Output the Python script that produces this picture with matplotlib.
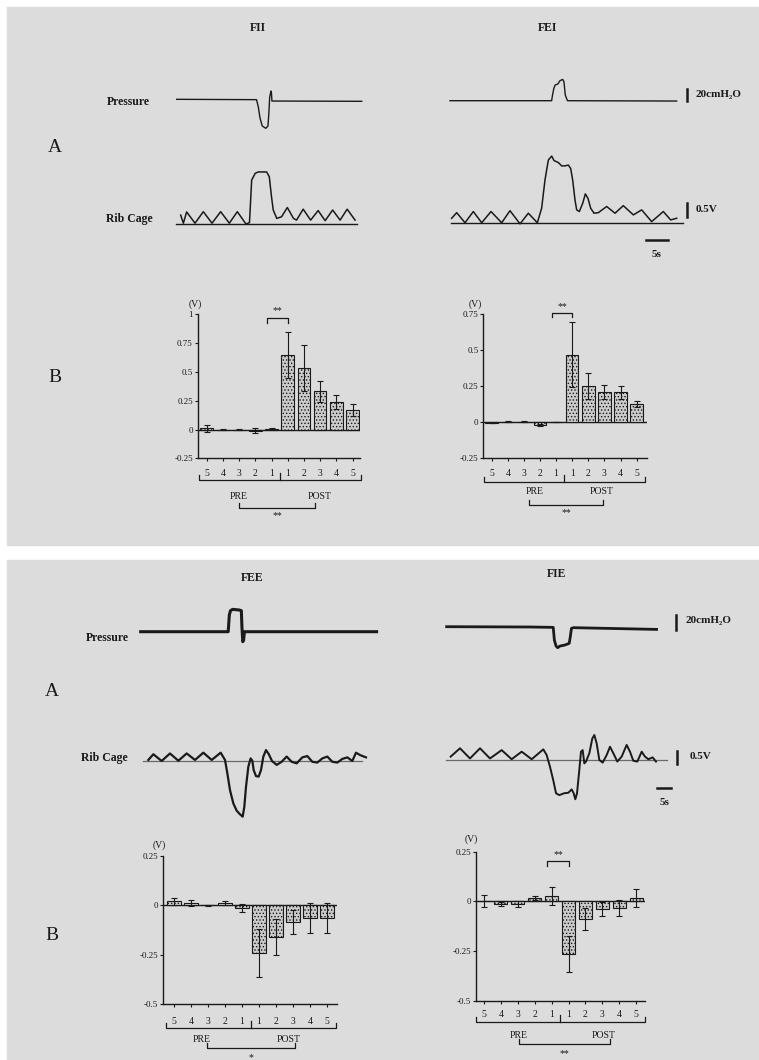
import matplotlib.pyplot as plt
from matplotlib.patches import Rectangle

plt.rcParams['font.family'] = ['Liberation Serif', 'DejaVu Serif']
plt.rcParams['hatch.linewidth'] = 0.6

W, H = 759, 1060
INK = '#1a1a1a'

# ---- traces (time in s, pressure in cmH2O, rib cage in V) ----
FII_P_T = [0.15, 18.3, 18.7, 19.1, 19.6, 20.4, 20.9, 21.1, 21.3, 21.6, 21.7, 21.8, 42.2]
FII_P = [1.2, 0.6, -11.7, -32, -45.6, -49.7, -45.6, -23.4, 5.8, 15.8, 11.7, -1.8, -2.3]
FII_R_T = [1.06, 1.67, 2.42, 4.32, 6.21, 8.18, 10.15, 12.12, 13.94, 15.9, 16.7, 17.2,
           18.0, 18.7, 20.6, 21.2, 21.7, 22.1, 22.9, 24.0, 25.3, 26.7, 27.4, 28.9,
           30.6, 32.3, 33.9, 35.6, 37.3, 38.9, 40.7]
FII_R = [0.33, 0.04, 0.44, 0.04, 0.45, 0.04, 0.45, 0.04, 0.45, 0.01, 0.06, 1.58,
         1.82, 1.87, 1.87, 1.70, 0.99, 0.51, 0.21, 0.27, 0.60, 0.21, 0.15, 0.54,
         0.15, 0.49, 0.13, 0.51, 0.15, 0.54, 0.15]

FEI_P_T = [0, 23.1, 23.3, 23.6, 23.9, 24.5, 25.0, 25.6, 25.9, 26.2, 26.7, 51.5]
FEI_P = [0, 0, 9.9, 21.6, 27.5, 29.2, 35.1, 37.4, 33.3, 9.9, 0, -0.6]
FEI_R_T = [0.38, 1.52, 3.41, 5.30, 7.20, 9.32, 11.74, 13.64, 15.91, 17.80, 19.85,
           20.83, 21.59, 22.35, 23.11, 23.64, 24.62, 25.38, 26.14, 26.89, 27.42,
           27.88, 28.41, 28.79, 29.39, 30.15, 30.76, 31.36, 31.97, 32.73, 33.71,
           35.61, 37.50, 39.39, 41.67, 43.56, 45.83, 48.48, 50.15, 51.52]
FEI_R = [0.18, 0.38, 0.02, 0.42, 0.02, 0.42, 0.02, 0.45, -0.02, 0.36, 0.02,
         0.54, 1.55, 2.26, 2.40, 2.24, 2.17, 2.05, 2.05, 2.08, 1.96,
         1.55, 0.83, 0.48, 0.42, 0.71, 1.05, 0.89, 0.54, 0.36, 0.38,
         0.60, 0.36, 0.63, 0.30, 0.48, 0.06, 0.42, 0.12, 0.18]

FEE_P_T = [0.24, 31.5, 31.9, 32.3, 33.1, 35.5, 36.2, 36.4, 36.7, 37.0, 37.3, 84.5]
FEE_P = [0, 0, 22.2, 28, 29.8, 28.9, 28, 6.7, -13.3, -11.1, 0, 0]
FEE_R_T = [2.98, 4.76, 7.74, 10.71, 13.69, 16.67, 19.64, 22.62, 25.60, 28.81, 30.36,
           31.19, 32.14, 33.33, 34.52, 35.71, 36.67, 37.26, 37.86, 38.69, 39.52,
           40.12, 40.60, 41.43, 42.38, 43.21, 44.05, 45.0, 45.95, 47.14, 48.81,
           50.60, 52.38, 54.17, 55.95, 57.98, 59.76, 61.55, 63.33, 65.12, 66.90,
           68.69, 70.48, 72.26, 74.05, 75.83, 77.14, 78.57, 80.71]
FEE_R = [0.04, 0.26, 0, 0.29, 0.01, 0.29, 0.04, 0.32, 0.04, 0.32, 0.04,
         -0.47, -1.12, -1.63, -1.91, -2.05, -2.14, -1.76, -0.99, -0.22, 0.10,
         0.01, -0.35, -0.58, -0.60, -0.35, 0.17, 0.42, 0.27, 0, -0.15,
         -0.03, 0.17, -0.03, -0.09, 0.14, 0.19, -0.03, -0.06, 0.10, 0.17,
         -0.03, -0.06, 0.08, 0.14, 0, 0.32, 0.23, 0.14]

FIE_P_T = [0.24, 30.0, 38.3, 38.7, 39.3, 39.9, 40.7, 42.5, 44.0, 44.4, 44.8, 45.5, 75.2]
FIE_P = [0, -0.4, -0.9, -17.8, -25.8, -28, -25.8, -24.4, -22.2, -13.3, -2.2, -1.3, -3.6]
FIE_R_T = [1.67, 5.0, 8.57, 12.14, 15.71, 19.88, 23.45, 27.02, 30.60, 34.76, 35.95,
           37.14, 38.33, 39.29, 40.48, 42.14, 43.69, 44.88, 45.60, 46.19, 46.79,
           47.50, 48.21, 48.81, 49.40, 50.0, 51.19, 52.26, 52.98, 53.81, 54.76,
           55.95, 57.38, 58.57, 59.76, 61.19, 62.74, 64.52, 65.71, 66.90, 68.33,
           69.88, 71.07, 72.26, 73.81, 75.0]
FIE_R = [0.13, 0.45, 0.06, 0.45, 0.06, 0.38, 0.03, 0.32, 0.03, 0.41, 0.19,
         -0.26, -0.79, -1.28, -1.35, -1.28, -1.26, -1.13, -1.28, -1.51, -1.28,
         -0.51, 0.32, 0.38, -0.13, -0.06, 0.26, 0.83, 0.96, 0.64, 0,
         -0.10, 0.19, 0.51, 0.26, -0.06, 0.13, 0.58, 0.32, -0.03, -0.06,
         0.32, 0.13, 0.03, 0.10, -0.06]

# ---- bar charts (V) ----
CATS = ['5', '4', '3', '2', '1', '1', '2', '3', '4', '5']
FII_MEAN = [0.01, 0.0, 0.0, -0.01, 0.005, 0.65, 0.53, 0.33, 0.24, 0.17]
FII_ERR = [0.03, 0.004, 0.004, 0.02, 0.004, 0.20, 0.20, 0.09, 0.06, 0.05]
FEI_MEAN = [-0.005, 0.005, 0.005, -0.02, 0.0, 0.47, 0.25, 0.21, 0.21, 0.125]
FEI_ERR = [0.003, 0.003, 0.003, 0.005, 0.0, 0.225, 0.09, 0.05, 0.045, 0.02]
FEE_MEAN = [0.02, 0.01, 0.0, 0.01, -0.015, -0.24, -0.16, -0.085, -0.065, -0.065]
FEE_ERR = [0.02, 0.015, 0.003, 0.01, 0.02, 0.12, 0.09, 0.06, 0.075, 0.075]
FIE_MEAN = [0.0, -0.015, -0.015, 0.015, 0.025, -0.265, -0.09, -0.037, -0.032, 0.015]
FIE_ERR = [0.03, 0.01, 0.015, 0.01, 0.045, 0.09, 0.055, 0.035, 0.04, 0.045]

fig = plt.figure(figsize=(W / 100, H / 100), dpi=100)
fig.patch.set_facecolor('white')
fig.add_artist(Rectangle((7 / W, 1 - 545 / H), (W - 7) / W, 538 / H,
                         transform=fig.transFigure, color='#dcdcdc', zorder=-5))
fig.add_artist(Rectangle((7 / W, 0), (W - 7) / W, 1 - 560 / H,
                         transform=fig.transFigure, color='#dcdcdc', zorder=-5))


def ftext(x, y, s, **kw):
    kw.setdefault('ha', 'center')
    kw.setdefault('va', 'center')
    fig.text(x / W, 1 - y / H, s, color=INK, **kw)


def trace_axes(x0, y0, px_t, px_v):
    # full-figure axes whose (0, 0) sits at pixel (x0, y0)
    ax = fig.add_axes([0, 0, 1, 1], facecolor='none')
    ax.set_axis_off()
    ax.set_xlim(-x0 / px_t, (W - x0) / px_t)
    ax.set_ylim(-(H - y0) / px_v, y0 / px_v)
    return ax


# top panel traces: 4.4 px/s, 0.57 px/cmH2O, 28 px/V
ax = trace_axes(176, 100, 4.4, 0.57)
ax.plot(FII_P_T, FII_P, color=INK, lw=1.0)
ax = trace_axes(176, 224.3, 4.4, 28)
ax.plot([0, 41.1], [0, 0], color=INK, lw=1.0)
ax.plot(FII_R_T, FII_R, color=INK, lw=1.1)

ax = trace_axes(450, 100.7, 4.4, 0.57)
ax.plot(FEI_P_T, FEI_P, color=INK, lw=1.0)
ax.plot([53.8, 53.8], [0, 20], color=INK, lw=1.8)
ax.text(55.9, 11, '20cmH₂O', fontsize=8, fontweight='bold', ha='left', va='center', color=INK)
ax = trace_axes(450, 223.3, 4.4, 28)
ax.plot([0.15, 53.0], [0, 0], color=INK, lw=1.0)
ax.plot(FEI_R_T, FEI_R, color=INK, lw=1.1)
ax.plot([53.9, 53.9], [0.24, 0.74], color=INK, lw=1.8)
ax.text(55.9, 0.51, '0.5V', fontsize=8, fontweight='bold', ha='left', va='center', color=INK)
ax.plot([44.5, 49.5], [-0.6, -0.6], color=INK, lw=1.8)
ax.text(47, -1.13, '5s', fontsize=8, fontweight='bold', ha='center', va='center', color=INK)

# bottom panel traces: 2.8 px/s, 0.75 px/cmH2O, 26 px/V
ax = trace_axes(140, 631.7, 2.8, 0.75)
ax.plot(FEE_P_T, FEE_P, color=INK, lw=2.2)
ax = trace_axes(140, 761, 2.8, 26)
ax.plot([1.0, 79.2], [0, 0], color='#6a6a6a', lw=0.9)
ax.plot(FEE_R_T, FEE_R, color=INK, lw=1.6)

ax = trace_axes(446, 626.7, 2.8, 0.75)
ax.plot(FIE_P_T, FIE_P, color=INK, lw=2.0)
ax.plot([82.1, 82.1], [-4.4, 15.6], color=INK, lw=1.8)
ax.text(85.7, 8.9, '20cmH₂O', fontsize=8, fontweight='bold', ha='left', va='center', color=INK)
ax = trace_axes(446, 760, 2.8, 26)
ax.plot([0.17, 79.0], [0, 0], color='#6a6a6a', lw=0.9)
ax.plot(FIE_R_T, FIE_R, color=INK, lw=1.4)
ax.plot([82.5, 82.5], [-0.15, 0.35], color=INK, lw=1.8)
ax.text(87.1, 0.12, '0.5V', fontsize=8, fontweight='bold', ha='left', va='center', color=INK)
ax.plot([75.4, 80.4], [-1.08, -1.08], color=INK, lw=1.8)
ax.text(77.9, -1.65, '5s', fontsize=8, fontweight='bold', ha='center', va='center', color=INK)


def bar_panel(left, right, top, bottom, first, step, ylim, yticks, ylabels,
              means, errs, lay):
    h = bottom - top
    ax = fig.add_axes([left / W, 1 - bottom / H, (right - left) / W, h / H])
    ax.set_facecolor('none')
    x = list(range(len(CATS)))
    ax.set_xlim((left - first) / step, (right - first) / step)
    ax.set_ylim(*ylim)
    ax.bar(x, means, width=0.78, color='#cbcbcb', edgecolor=INK, linewidth=0.8,
           hatch='.....', zorder=2)
    ax.errorbar(x, means, yerr=errs, fmt='none', ecolor=INK, elinewidth=0.8,
                capsize=2.2, capthick=0.8, zorder=3)
    ax.axhline(0, color=INK, lw=1.0, zorder=1)
    for s in ('top', 'right'):
        ax.spines[s].set_visible(False)
    for s in ('left', 'bottom'):
        ax.spines[s].set_linewidth(1.0)
        ax.spines[s].set_color(INK)
    ax.set_xticks(x)
    ax.set_xticklabels(CATS)
    ax.set_yticks(yticks)
    ax.set_yticklabels(ylabels)
    ax.tick_params(axis='x', length=2.5, width=0.8, pad=lay['pad'], labelsize=7, colors=INK)
    ax.tick_params(axis='y', length=2.5, width=0.8, pad=1, labelsize=6.5, colors=INK)

    ax.annotate('(V)', xy=(0, 1), xycoords='axes fraction', xytext=lay['v'],
                textcoords='offset pixels', ha='center', va='center', fontsize=7, color=INK)

    tr = ax.get_xaxis_transform()
    f = lambda dy: -dy / h
    b = lay['br']
    ax.plot([-0.5, -0.5, 9.5, 9.5], [f(b - 5), f(b), f(b), f(b - 5)], transform=tr,
            clip_on=False, color=INK, lw=0.9)
    ax.plot([4.5, 4.5], [f(b - 7), f(b)], transform=tr, clip_on=False, color=INK, lw=0.9)
    ax.text(lay['pre'], f(lay['lab']), 'PRE', transform=tr, ha='center', va='center',
            fontsize=7, color=INK)
    ax.text(lay['post'], f(lay['lab']), 'POST', transform=tr, ha='center', va='center',
            fontsize=7, color=INK)
    l0, l1 = lay['low']
    c = lay['cmp']
    ax.plot([l0, l0, l1, l1], [f(c - 5), f(c), f(c), f(c - 5)], transform=tr,
            clip_on=False, color=INK, lw=0.9)
    ax.text((l0 + l1) / 2, f(lay['star']), lay['sig'], transform=tr, ha='center',
            va='center', fontsize=7, color=INK)
    if 'top' in lay:
        y0, y1, ys = lay['top']
        ax.plot([3.75, 3.75, 5.0, 5.0], [y1, y0, y0, y1], color=INK, lw=0.9, clip_on=False)
        ax.text(4.375, ys, '**', ha='center', va='center', fontsize=7, color=INK)
    return ax


bar_panel(197.7, 360, 314.3, 458.3, 206.7, 16.2, (-0.25, 1.0),
          [-0.25, 0, 0.25, 0.5, 0.75, 1], ['-0.25', '0', '0.25', '0.5', '0.75', '1'],
          FII_MEAN, FII_ERR,
          dict(pad=5, v=(-2, 10), br=22, lab=38, pre=1.95, post=6.95, low=(2.0, 6.7),
               cmp=50, star=57, sig='**', top=(0.965, 0.927, 1.03)))
bar_panel(483.3, 646.5, 314.3, 458.3, 491.7, 16.1, (-0.25, 0.75),
          [-0.25, 0, 0.25, 0.5, 0.75], ['-0.25', '0', '0.25', '0.5', '0.75'],
          FEI_MEAN, FEI_ERR,
          dict(pad=5.5, v=(-8, 10), br=23.4, lab=33.4, pre=2.69, post=6.83, low=(2.33, 6.93),
               cmp=46.7, star=54, sig='**', top=(0.761, 0.733, 0.80)))
bar_panel(162.7, 336.7, 856, 1004.3, 174, 17.0, (-0.5, 0.25),
          [-0.5, -0.25, 0, 0.25], ['-0.5', '-0.25', '0', '0.25'],
          FEE_MEAN, FEE_ERR,
          dict(pad=7, v=(-3, 11), br=24, lab=35.7, pre=1.63, post=6.72, low=(1.92, 7.1),
               cmp=44, star=53, sig='*'))
bar_panel(476, 645, 851.7, 1000.7, 484, 16.9, (-0.5, 0.25),
          [-0.5, -0.25, 0, 0.25], ['-0.5', '-0.25', '0', '0.25'],
          FIE_MEAN, FIE_ERR,
          dict(pad=4, v=(-5, 13), br=21, lab=35.3, pre=2.03, post=7.1, low=(2.08, 7.44),
               cmp=43.3, star=52.6, sig='**', top=(0.205, 0.18, 0.233)))

# labels
ftext(258, 28, 'FII', fontsize=8.5, fontweight='bold')
ftext(548, 28, 'FEI', fontsize=8.5, fontweight='bold')
ftext(252, 578, 'FEE', fontsize=8.5, fontweight='bold')
ftext(557, 574, 'FIE', fontsize=8.5, fontweight='bold')
ftext(107, 102, 'Pressure', fontsize=8.5, fontweight='bold', ha='left')
ftext(106, 219, 'Rib Cage', fontsize=8.5, fontweight='bold', ha='left')
ftext(129, 638, 'Pressure', fontsize=8.5, fontweight='bold', ha='right')
ftext(128, 758, 'Rib Cage', fontsize=8.5, fontweight='bold', ha='right')
ftext(55, 147, 'A', fontsize=14)
ftext(55, 378, 'B', fontsize=14)
ftext(52, 692, 'A', fontsize=14)
ftext(52, 935, 'B', fontsize=14)

fig.savefig('out.png', dpi=100)
